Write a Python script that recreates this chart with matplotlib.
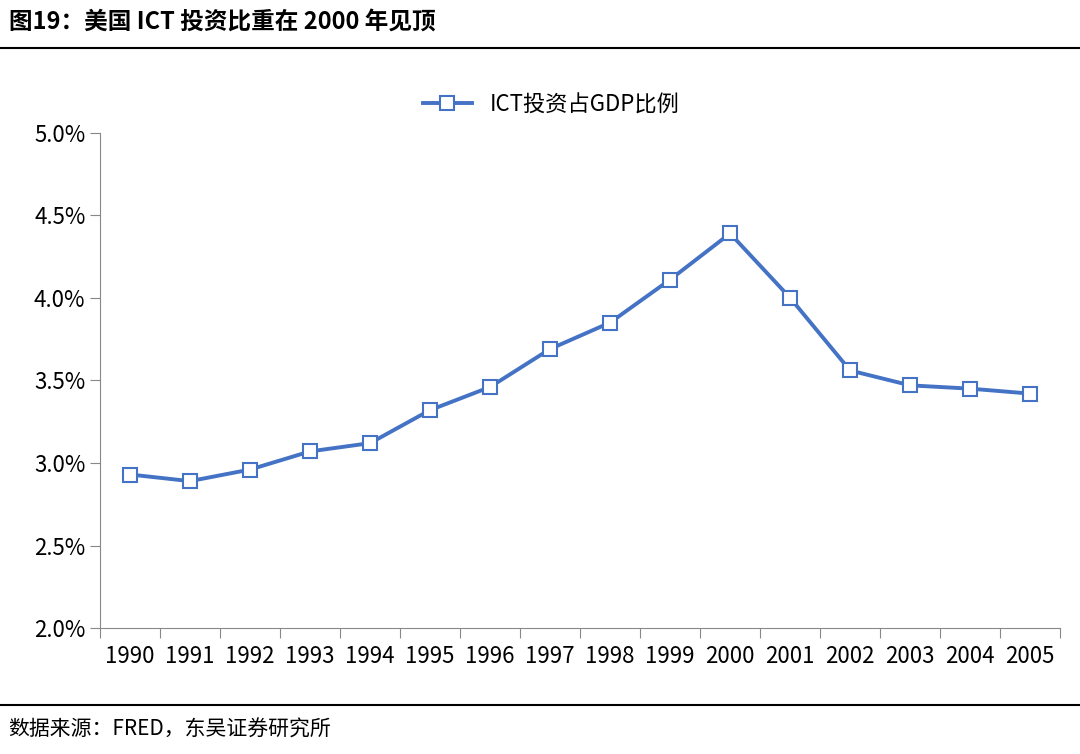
import matplotlib
matplotlib.use("Agg")
import matplotlib.pyplot as plt
import numpy as np

plt.rcParams["font.family"] = ["Noto Sans CJK SC", "DejaVu Sans"]

years = ["1990", "1991", "1992", "1993", "1994", "1995", "1996", "1997",
         "1998", "1999", "2000", "2001", "2002", "2003", "2004", "2005"]
ict_share = [2.93, 2.89, 2.96, 3.07, 3.12, 3.32, 3.46, 3.69,
             3.85, 4.11, 4.39, 4.00, 3.56, 3.47, 3.45, 3.42]
yticks = [2.0, 2.5, 3.0, 3.5, 4.0, 4.5, 5.0]

fig = plt.figure(figsize=(10.8, 7.54), dpi=100)
ax = fig.add_axes([0.0926, 0.167, 0.889, 0.657])

x = np.arange(len(years))
ax.plot(x, ict_share, color="#4472C4", lw=2.8, marker="s", ms=10,
        mfc="white", mec="#4472C4", mew=1.5, label="ICT投资占GDP比例")

ax.set_xlim(-0.5, len(years) - 0.5)
ax.set_ylim(2.0, 5.0)
ax.set_yticks(yticks)
ax.set_yticklabels([f"{v:.1f}%" for v in yticks], fontsize=16)
ax.set_xticks(np.arange(-0.5, len(years), 1.0))
ax.set_xticklabels([])
ax.set_xticks(x, minor=True)
ax.set_xticklabels(years, minor=True, fontsize=16)
ax.tick_params(axis="x", which="minor", length=0, pad=12)
ax.tick_params(axis="x", which="major", length=7, color="#888888")
ax.tick_params(axis="y", length=7, color="#888888")
for s in ["top", "right"]:
    ax.spines[s].set_visible(False)
for s in ["left", "bottom"]:
    ax.spines[s].set_color("#888888")

ax.legend(loc="upper center", bbox_to_anchor=(0.47, 1.12), frameon=False,
          fontsize=16, handlelength=2.2)

fig.text(0.008, 0.972, "图19：美国 ICT 投资比重在 2000 年见顶", fontsize=17,
         fontweight="bold", va="center", ha="left")
fig.add_artist(plt.Line2D([0, 1], [0.937, 0.937], color="black", lw=1.5))
fig.add_artist(plt.Line2D([0, 1], [0.065, 0.065], color="black", lw=1.5))
fig.text(0.008, 0.032, "数据来源：FRED，东吴证券研究所", fontsize=15,
         va="center", ha="left")

fig.savefig("out.png", dpi=100)
